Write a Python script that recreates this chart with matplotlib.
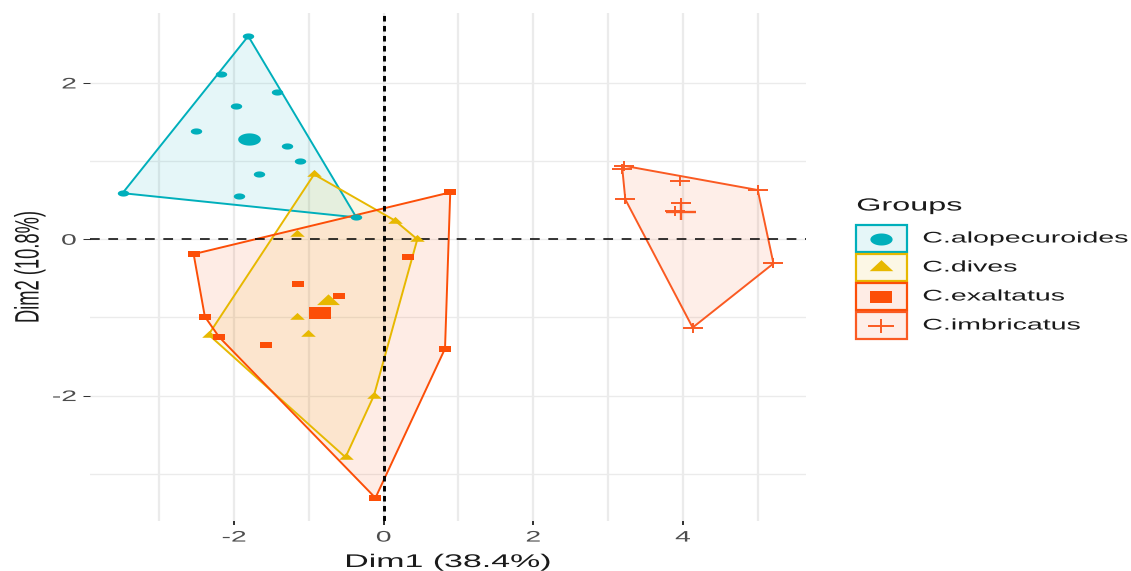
import numpy as np
import matplotlib
matplotlib.use("Agg")
import matplotlib.pyplot as plt
from matplotlib.path import Path
from matplotlib.transforms import Affine2D
from matplotlib.patheffects import AbstractPathEffect
from matplotlib.patches import Polygon, Rectangle
from matplotlib.lines import Line2D
from matplotlib.colors import to_rgba

# ---------------- data ----------------
groups = ["C.alopecuroides", "C.dives", "C.exaltatus", "C.imbricatus"]
colors = ["#00AFBB", "#E7B800", "#FC4E07", "#FA5A22"]

alo_x = [-1.81, -2.17, -1.42, -1.97, -2.51, -1.29, -1.12, -1.66, -3.49, -1.93, -0.365]
alo_y = [2.60, 2.11, 1.88, 1.71, 1.38, 1.19, 1.00, 0.84, 0.59, 0.56, 0.28]

div_x = [-0.93, 0.15, 0.45, -1.16, -1.16, -1.01, -2.34, -0.51, -0.13]
div_y = [0.83, 0.24, 0.00, 0.07, -1.00, -1.21, -1.22, -2.79, -2.00]

exa_x = [0.89, -2.54, 0.32, -1.15, -0.60, -2.39, -2.20, -1.57, 0.82, -0.11]
exa_y = [0.60, -0.19, -0.23, -0.57, -0.72, -0.99, -1.25, -1.35, -1.40, -3.31]

imb_x = [3.215, 3.19, 3.23, 3.96, 3.97, 3.90, 5.00, 5.21, 4.13]
imb_y = [0.94, 0.90, 0.51, 0.75, 0.46, 0.36, 0.63, -0.31, -1.13]

x_ticks = [-2, 0, 2, 4]
y_ticks = [-2, 0, 2]
x_minor = [-3, -1, 1, 3, 5]
y_minor = [-3, -1, 1]
x_title = "Dim1 (38.4%)"
y_title = "Dim2 (10.8%)"
legend_title = "Groups"

# ---------------- helpers ----------------
S = 1.85  # horizontal stretch of the reference rendering
W, H = 1131, 571
plt.rcParams['font.family'] = ['Liberation Sans', 'DejaVu Sans']
plt.rcParams['lines.scale_dashes'] = False


class Stretch(AbstractPathEffect):
    """Draw text stretched along one axis (text stays real text)."""
    def __init__(self, s, axis='x', anchor='center'):
        super().__init__()
        self.s, self.axis, self.anchor = s, axis, anchor

    def draw_path(self, renderer, gc, tpath, affine, rgbFace=None):
        ext = tpath.get_extents()
        if self.axis == 'x':
            if self.anchor == 'left':
                c = ext.x0
            elif self.anchor == 'right':
                c = ext.x1
            else:
                c = 0.5 * (ext.x0 + ext.x1)
            pre = Affine2D().translate(-c, 0).scale(self.s, 1).translate(c, 0)
        else:
            c = 0.5 * (ext.y0 + ext.y1)
            pre = Affine2D().translate(0, -c).scale(1, self.s).translate(0, c)
        renderer.draw_path(gc, tpath, (pre + affine).frozen(), rgbFace)


def hull(xs, ys):
    pts = sorted(set(zip(xs, ys)))
    def cross(o, a, b):
        return (a[0]-o[0])*(b[1]-o[1]) - (a[1]-o[1])*(b[0]-o[0])
    lower, upper = [], []
    for p in pts:
        while len(lower) >= 2 and cross(lower[-2], lower[-1], p) <= 0:
            lower.pop()
        lower.append(p)
    for p in reversed(pts):
        while len(upper) >= 2 and cross(upper[-2], upper[-1], p) <= 0:
            upper.pop()
        upper.append(p)
    return np.array(lower[:-1] + upper[:-1])


t = np.linspace(0, 2*np.pi, 61)
m_circle = Path(np.column_stack([S*np.cos(t), np.sin(t)]), closed=True)
m_tri = Path([(-S, -0.577), (S, -0.577), (0, 1.155), (-S, -0.577)], closed=True)
m_square = Path([(-S, -1), (S, -1), (S, 1), (-S, 1), (-S, -1)], closed=True)
m_plus = Path([(-S, 0), (S, 0), (0, -1), (0, 1)],
              [Path.MOVETO, Path.LINETO, Path.MOVETO, Path.LINETO])

markers = [m_circle, m_tri, m_square, m_plus]
small_ms = [8.2, 10.5, 8.8, 14.5]
big_ms = [16.3, 16.5, 16.3, 21.0]
key_ms = [16.0, 17.0, 16.0, 19.0]

data = [(alo_x, alo_y), (div_x, div_y), (exa_x, exa_y), (imb_x, imb_y)]

# ---------------- figure ----------------
fig = plt.figure(figsize=(W/100, H/100), dpi=100)
fig.patch.set_facecolor('white')
ax = fig.add_axes([90/W, 1-521/H, 716/W, 508/H])
for sp in ax.spines.values():
    sp.set_visible(False)

allx = np.concatenate([np.array(d[0]) for d in data])
ally = np.concatenate([np.array(d[1]) for d in data])
rx = allx.max() - allx.min()
ry = ally.max() - ally.min()
ax.set_xlim(allx.min() - 0.05*rx, allx.max() + 0.05*rx)
ax.set_ylim(ally.min() - 0.05*ry, ally.max() + 0.05*ry)

ax.set_xticks(x_ticks)
ax.set_xticks(x_minor, minor=True)
ax.set_yticks(y_ticks)
ax.set_yticks(y_minor, minor=True)
ax.set_xticklabels([str(v) for v in x_ticks])
ax.set_yticklabels([str(v) for v in y_ticks])

ax.grid(True, which='both', axis='x', color='#EBEBEB', lw=1.6)
ax.grid(True, which='both', axis='y', color='#EBEBEB', lw=1.0)
ax.set_axisbelow(True)

ax.tick_params(axis='x', which='major', length=2.9, width=1.45, color='#333333',
               pad=4.0, labelsize=11, labelcolor='#4D4D4D')
ax.tick_params(axis='y', which='major', length=5.4, width=0.75, color='#333333',
               pad=4.5, labelsize=11, labelcolor='#4D4D4D')
ax.tick_params(which='minor', length=0)

# convex hulls
for (xs, ys), c in zip(data, colors):
    hv = hull(xs, ys)
    ax.add_patch(Polygon(hv, closed=True, facecolor=to_rgba(c, 0.10),
                         edgecolor='none', zorder=2))
for (xs, ys), c in zip(data, colors):
    hv = hull(xs, ys)
    ax.add_patch(Polygon(hv, closed=True, facecolor='none',
                         edgecolor=c, lw=1.4, zorder=3))

# reference lines
ax.axhline(0, color='black', lw=1.1, dashes=(7.0, 6.2), zorder=4)
ax.axvline(0, color='black', lw=2.1, dashes=(4.0, 3.2), zorder=4)

# points and group means
for (xs, ys), c, m, ms, bms in zip(data, colors, markers, small_ms, big_ms):
    if m is m_plus:
        ax.plot(xs, ys, ls='none', marker=m, ms=ms, mfc='none', mec=c, mew=1.4, zorder=5)
        ax.plot([np.mean(xs)], [np.mean(ys)], ls='none', marker=m, ms=bms,
                mfc='none', mec=c, mew=1.7, zorder=6)
    else:
        ax.plot(xs, ys, ls='none', marker=m, ms=ms, mfc=c, mec=c, mew=0, zorder=5)
        ax.plot([np.mean(xs)], [np.mean(ys)], ls='none', marker=m, ms=bms,
                mfc=c, mec=c, mew=0, zorder=6)

# axis titles
ax.set_xlabel(x_title, fontsize=13.2, color='#1A1A1A')
ax.xaxis.set_label_coords(0.5, -(567 - 521)/508)
ax.xaxis.label.set_verticalalignment('baseline')
ax.xaxis.label.set_path_effects([Stretch(S, 'x', 'center')])

ax.set_ylabel(y_title, fontsize=13.2, color='#1A1A1A')
ax.yaxis.set_label_coords((30 - 90)/716, 0.5)
ax.yaxis.label.set_verticalalignment('center')
ax.yaxis.label.set_path_effects([Stretch(S, 'y', 'center')])

for lbl in ax.get_xticklabels():
    lbl.set_path_effects([Stretch(S, 'x', 'center')])
for lbl in ax.get_yticklabels():
    lbl.set_path_effects([Stretch(S, 'x', 'right')])

# legend (drawn manually in figure coordinates)
fig.text(857/W, 1-206/H, legend_title, ha='left', va='center', fontsize=12.6,
         color='#1A1A1A', path_effects=[Stretch(S, 'x', 'left')])
for i, (g, c, m, kms) in enumerate(zip(groups, colors, markers, key_ms)):
    top = 225 + 29*i
    fig.add_artist(Rectangle((856/W, 1-(top+27)/H), 51/W, 27/H,
                             transform=fig.transFigure, facecolor=to_rgba(c, 0.10),
                             edgecolor=c, lw=1.6))
    cy = 1 - (top + 13.5)/H
    if m is m_plus:
        fig.add_artist(Line2D([881.5/W], [cy], transform=fig.transFigure, ls='none',
                              marker=m, ms=kms, mfc='none', mec=c, mew=1.4))
    else:
        fig.add_artist(Line2D([881.5/W], [cy], transform=fig.transFigure, ls='none',
                              marker=m, ms=kms, mfc=c, mec=c, mew=0))
    fig.text(923/W, cy, g, ha='left', va='center', fontsize=11.1, color='#1A1A1A',
             path_effects=[Stretch(S, 'x', 'left')])

fig.savefig("out.png", dpi=100)
